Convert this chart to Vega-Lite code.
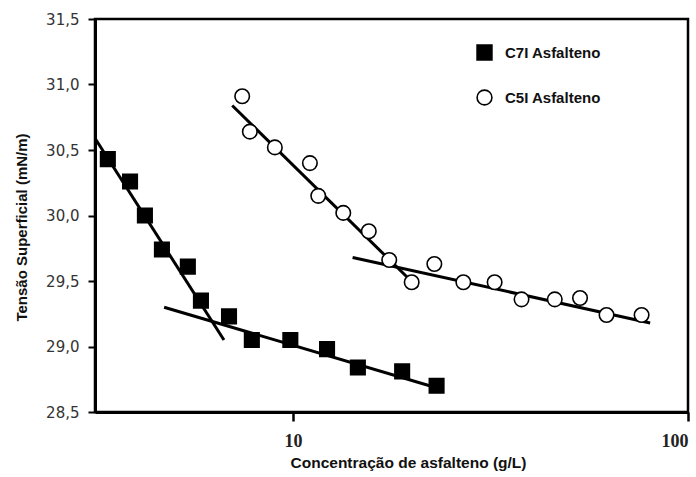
{
  "$schema": "https://vega.github.io/schema/vega-lite/v6.json",
  "width": 593,
  "height": 393,
  "autosize": {"type": "none"},
  "padding": {"left": 95, "top": 19, "right": 8, "bottom": 65},
  "background": "white",
  "config": {
    "view": {"stroke": "black", "strokeWidth": 2.5},
    "axis": {"grid": false, "domainColor": "black", "tickColor": "black"},
    "legend": {
      "title": null,
      "orient": "none",
      "legendX": 381,
      "legendY": 25,
      "padding": 0,
      "symbolSize": 220,
      "symbolStrokeWidth": 1.6,
      "labelFont": "Liberation Sans",
      "labelFontSize": 15,
      "labelFontWeight": "bold",
      "labelColor": "#111",
      "labelOffset": 12,
      "rowPadding": 22
    }
  },
  "datasets": {
    "pts": [
      {"s": "C7I Asfalteno", "c": 3.40, "t": 30.43},
      {"s": "C7I Asfalteno", "c": 3.87, "t": 30.26},
      {"s": "C7I Asfalteno", "c": 4.22, "t": 30.00},
      {"s": "C7I Asfalteno", "c": 4.66, "t": 29.74},
      {"s": "C7I Asfalteno", "c": 5.42, "t": 29.61},
      {"s": "C7I Asfalteno", "c": 5.85, "t": 29.35},
      {"s": "C7I Asfalteno", "c": 6.89, "t": 29.23},
      {"s": "C7I Asfalteno", "c": 7.87, "t": 29.05},
      {"s": "C7I Asfalteno", "c": 9.85, "t": 29.05},
      {"s": "C7I Asfalteno", "c": 12.2, "t": 28.98},
      {"s": "C7I Asfalteno", "c": 14.6, "t": 28.84},
      {"s": "C7I Asfalteno", "c": 18.9, "t": 28.81},
      {"s": "C7I Asfalteno", "c": 23.1, "t": 28.70},
      {"s": "C5I Asfalteno", "c": 7.44, "t": 30.91},
      {"s": "C5I Asfalteno", "c": 7.78, "t": 30.64},
      {"s": "C5I Asfalteno", "c": 9.00, "t": 30.52},
      {"s": "C5I Asfalteno", "c": 11.04, "t": 30.40},
      {"s": "C5I Asfalteno", "c": 11.59, "t": 30.15},
      {"s": "C5I Asfalteno", "c": 13.41, "t": 30.02},
      {"s": "C5I Asfalteno", "c": 15.56, "t": 29.88},
      {"s": "C5I Asfalteno", "c": 17.53, "t": 29.66},
      {"s": "C5I Asfalteno", "c": 19.98, "t": 29.49},
      {"s": "C5I Asfalteno", "c": 22.8, "t": 29.63},
      {"s": "C5I Asfalteno", "c": 27.0, "t": 29.49},
      {"s": "C5I Asfalteno", "c": 32.4, "t": 29.49},
      {"s": "C5I Asfalteno", "c": 37.9, "t": 29.36},
      {"s": "C5I Asfalteno", "c": 46.0, "t": 29.36},
      {"s": "C5I Asfalteno", "c": 53.3, "t": 29.37},
      {"s": "C5I Asfalteno", "c": 62.2, "t": 29.24},
      {"s": "C5I Asfalteno", "c": 76.3, "t": 29.24}
    ],
    "fits": [
      {"seg": "a", "c": 3.155, "t": 30.59},
      {"seg": "a", "c": 6.69, "t": 29.05},
      {"seg": "b", "c": 4.72, "t": 29.30},
      {"seg": "b", "c": 24.0, "t": 28.67},
      {"seg": "c", "c": 7.02, "t": 30.84},
      {"seg": "c", "c": 20.7, "t": 29.45},
      {"seg": "d", "c": 14.16, "t": 29.68},
      {"seg": "d", "c": 80.2, "t": 29.18}
    ]
  },
  "layer": [
    {
      "data": {"name": "fits"},
      "mark": {"type": "line", "color": "black", "strokeWidth": 3},
      "encoding": {
        "x": {"field": "c", "type": "quantitative"},
        "y": {"field": "t", "type": "quantitative"},
        "detail": {"field": "seg"}
      }
    },
    {
      "data": {"name": "pts"},
      "mark": {"type": "point", "filled": false, "size": 210, "strokeWidth": 1.6, "opacity": 1},
      "encoding": {
        "x": {
          "field": "c",
          "type": "quantitative",
          "scale": {"type": "log", "domain": [3.155, 100], "nice": false, "zero": false},
          "axis": {
            "values": [10, 100],
            "format": "d",
            "title": "Concentração de asfalteno (g/L)",
            "titleFont": "Liberation Sans",
            "titleFontSize": 15.5,
            "titleFontWeight": "bold",
            "titleColor": "#111",
            "titleX": 313,
            "titleY": 55,
            "titleBaseline": "alphabetic",
            "labelFont": "Liberation Serif",
            "labelFontSize": 18,
            "labelFontWeight": "bold",
            "labelColor": "#222",
            "labelPadding": 11,
            "tickSize": 9,
            "tickWidth": 2.5,
            "domainWidth": 3
          }
        },
        "y": {
          "field": "t",
          "type": "quantitative",
          "scale": {"domain": [28.5, 31.5], "nice": false, "zero": false},
          "axis": {
            "values": [28.5, 29, 29.5, 30, 30.5, 31, 31.5],
            "labelExpr": "replace(format(datum.value, '.1f'), '.', ',')",
            "title": "Tensão Superficial (mN/m)",
            "titleFont": "Liberation Sans",
            "titleFontSize": 15,
            "titleFontWeight": "bold",
            "titleColor": "#111",
            "titleX": -74,
            "titleY": 208,
            "titleBaseline": "middle",
            "labelFont": "DejaVu Sans",
            "labelFontSize": 15,
            "labelColor": "#333",
            "labelPadding": 9,
            "tickSize": 7,
            "tickWidth": 2,
            "domainWidth": 3
          }
        },
        "shape": {
          "field": "s",
          "type": "nominal",
          "title": null,
          "scale": {"domain": ["C7I Asfalteno", "C5I Asfalteno"], "range": ["square", "circle"]}
        },
        "fill": {
          "field": "s",
          "type": "nominal",
          "title": null,
          "scale": {"domain": ["C7I Asfalteno", "C5I Asfalteno"], "range": ["black", "white"]}
        },
        "stroke": {
          "field": "s",
          "type": "nominal",
          "title": null,
          "scale": {"domain": ["C7I Asfalteno", "C5I Asfalteno"], "range": ["black", "black"]}
        }
      }
    }
  ]
}
